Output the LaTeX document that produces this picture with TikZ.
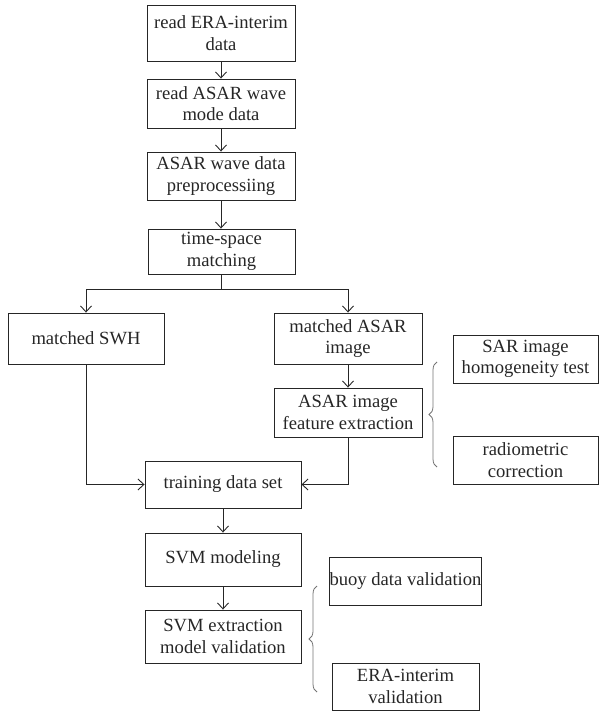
\documentclass[tikz,border=0pt]{standalone}
\usepackage{fontspec}
\setmainfont{Liberation Serif}
\usetikzlibrary{arrows.meta,decorations.pathreplacing}
\begin{document}
\begin{tikzpicture}[x=1pt,y=-1pt,
  box/.style={draw=black!85,line width=0.9pt,inner sep=0pt,align=center,
    font=\fontsize{18.6}{21.5}\selectfont,text=black!85},
  arr/.style={draw=black!85,line width=0.9pt,-{Straight Barb[length=6pt,width=11pt,line width=0.9pt]}},
  ln/.style={draw=black!85,line width=0.9pt},
  brc/.style={draw=black!55,line width=0.8pt,decorate,decoration={brace,amplitude=8pt}}]
\useasboundingbox (0,0) rectangle (599,711);
\node[box,minimum width=148,minimum height=56] (n1) at (221,33) {read ERA-interim\\data};
\node[box,minimum width=148,minimum height=49] (n2) at (221,103.5) {read ASAR wave\\mode data};
\node[box,minimum width=148,minimum height=48] (n3) at (221,176) {ASAR wave data\\preprocessiing};
\node[box,minimum width=147,minimum height=45] (n4) at (221.5,251.5) {time-space\\matching};
\node[box,minimum width=156,minimum height=51] (swh) at (86,338.5) {matched SWH};
\node[box,minimum width=148,minimum height=51] (masar) at (348,338.5) {matched ASAR\\image};
\node[box,minimum width=148,minimum height=49] (feat) at (348,412.5) {ASAR image\\feature extraction};
\node[box,minimum width=145,minimum height=48] (sar) at (525.5,359) {SAR image\\homogeneity test};
\node[box,minimum width=145,minimum height=48] (rad) at (525.5,460) {radiometric\\correction};
\node[box,minimum width=156,minimum height=47] (train) at (223,484.5) {training data set};
\node[box,minimum width=156,minimum height=53] (svm) at (223,559.5) {SVM modeling};
\node[box,minimum width=156,minimum height=53] (ext) at (223,636.5) {SVM extraction\\model validation};
\node[box,minimum width=147,minimum height=48] (buoy) at (405.5,581) {buoy data validation};
\node[box,minimum width=147,minimum height=47] (era) at (405.5,686.5) {ERA-interim\\validation};
\coordinate (sp) at (221,289);
\draw[arr] (n1) -- (n2);
\draw[arr] (n2) -- (n3);
\draw[arr] (n3) -- (n3 |- n4.north);
\draw[ln] (n3 |- n4.south) -- (sp);
\draw[arr] (sp) -| (swh.north);
\draw[arr] (sp) -| (masar.north);
\draw[arr] (masar) -- (feat);
\draw[arr] (swh.south) |- (train.west);
\draw[arr] (feat.south) |- (train.east);
\draw[arr] (train) -- (svm);
\draw[arr] (svm) -- (ext);
\draw[brc] (437,467) -- (437,362);
\draw[brc] (317,692) -- (317,586);
\end{tikzpicture}
\end{document}
